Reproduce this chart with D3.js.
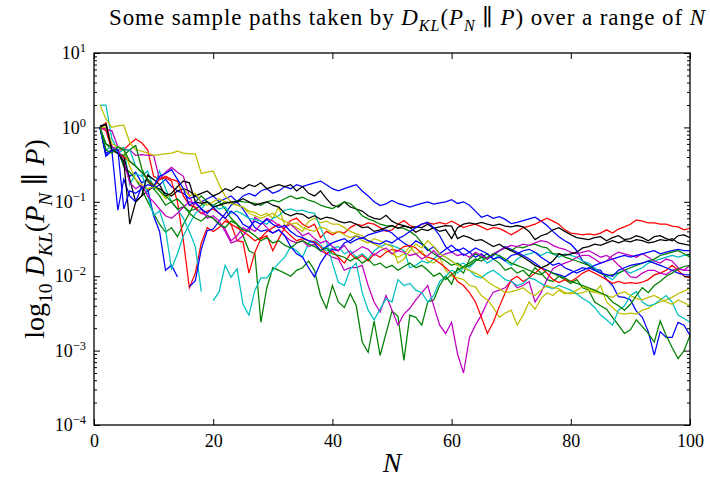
<!DOCTYPE html>
<html>
<head>
<meta charset="utf-8">
<script src="https://cdn.jsdelivr.net/npm/d3@7"></script>
<style>
  html, body { margin: 0; padding: 0; background: #fff; }
  svg { display: block; }
</style>
</head>
<body>
<svg id="chart" width="710" height="479"></svg>
<script>
// ---------------- data (N = 1..100) ----------------
const N = d3.range(1, 101);

const blue1 = [
  1.0, 0.42, 0.48, 0.5, 0.3, 0.22, 0.25, 0.18, 0.2, 0.15,
  0.17, 0.2, 0.16, 0.14, 0.13, 0.11, 0.12, 0.1, 0.11, 0.12,
  0.1, 0.11, 0.12, 0.1, 0.12, 0.13, 0.12, 0.14, 0.15, 0.13,
  0.14, 0.16, 0.15, 0.17, 0.16, 0.17, 0.18, 0.19, 0.17, 0.15,
  0.14, 0.15, 0.16, 0.17, 0.14, 0.12, 0.1, 0.089, 0.094, 0.104,
  0.095, 0.09, 0.085, 0.09, 0.095, 0.1, 0.093, 0.097, 0.1, 0.107,
  0.095, 0.1, 0.09, 0.075, 0.062, 0.066, 0.06, 0.063, 0.058, 0.051,
  0.053, 0.056, 0.059, 0.062, 0.055, 0.048, 0.04, 0.034, 0.03, 0.027,
  0.022, 0.016, 0.014, 0.0125, 0.012, 0.009, 0.0075, 0.0053, 0.0052, 0.0048,
  0.0034, 0.0028, 0.0018, 0.00087, 0.0018, 0.0015, 0.0015, 0.0024, 0.0022, 0.0016
];
const green1 = [
  1.0, 0.6, 0.55, 0.5, 0.3, 0.25, 0.2, 0.15, 0.1, 0.07,
  0.05, 0.039, 0.045, 0.034, 0.05, 0.07, 0.1, 0.12, 0.1, 0.09,
  0.1, 0.08, 0.06, 0.05, 0.035, 0.022, 0.02, 0.0024, 0.007, 0.013,
  0.012, 0.011, 0.01, 0.012, 0.013, 0.016, 0.012, 0.0055, 0.0037, 0.0075,
  0.0045, 0.0038, 0.0058, 0.004, 0.0013, 0.00095, 0.0025, 0.00086, 0.0017, 0.0034,
  0.0029, 0.00074, 0.003, 0.0028, 0.0022, 0.0045, 0.0048, 0.0075, 0.01, 0.0078,
  0.013, 0.011, 0.017, 0.02, 0.018, 0.02, 0.017, 0.015, 0.012, 0.013,
  0.011, 0.012, 0.01, 0.013, 0.011, 0.009, 0.0085, 0.01, 0.009, 0.008,
  0.009, 0.007, 0.0065, 0.0045, 0.004, 0.0036, 0.0028, 0.0022, 0.0017, 0.0019,
  0.0026, 0.0021, 0.0017, 0.0013, 0.0025, 0.0016, 0.0011, 0.00078, 0.001, 0.0016
];
const red1 = [
  1.0, 1.15, 0.55, 0.5, 0.5, 0.6, 0.7, 0.62, 0.5, 0.22,
  0.2, 0.21, 0.19, 0.1, 0.03, 0.007, 0.011, 0.028, 0.045, 0.04,
  0.045, 0.055, 0.05, 0.03, 0.029, 0.011, 0.021, 0.032, 0.035, 0.022,
  0.032, 0.045, 0.056, 0.06, 0.05, 0.045, 0.05, 0.033, 0.04, 0.036,
  0.04, 0.038, 0.045, 0.05, 0.048, 0.052, 0.05, 0.045, 0.04, 0.042,
  0.05, 0.056, 0.048, 0.045, 0.05, 0.052, 0.05, 0.053, 0.05, 0.055,
  0.05, 0.045, 0.048, 0.05, 0.046, 0.042, 0.045, 0.044, 0.04, 0.036,
  0.04, 0.045, 0.047, 0.05, 0.055, 0.06, 0.055, 0.05, 0.042, 0.038,
  0.037, 0.036, 0.037, 0.036, 0.038, 0.042, 0.038, 0.043, 0.046, 0.05,
  0.057, 0.055, 0.052, 0.052, 0.05, 0.05, 0.047, 0.046, 0.042, 0.044
];
const cyan1 = [
  2.0, 2.0, 0.7, 0.5, 0.54, 0.17, 0.24, 0.22, 0.26, 0.15,
  0.26, 0.15, 0.1, 0.08, 0.06, 0.04, 0.025, 0.0062, null, 0.0047,
  0.0062, 0.014, 0.0097, 0.0126, 0.0042, 0.003, 0.0065, 0.0095, 0.0095, 0.012,
  0.015, 0.018, 0.025, 0.022, 0.018, 0.028, 0.03, 0.026, 0.022, 0.024,
  0.025, 0.02, 0.022, 0.018, 0.02, 0.017, 0.022, 0.025, 0.027, 0.026,
  0.024, 0.022, 0.013, 0.014, 0.016, 0.015, 0.017, 0.02, 0.018, 0.016,
  0.014, 0.015, 0.013, 0.016, 0.018, 0.015, 0.017, 0.019, 0.016, 0.014,
  0.017, 0.019, 0.02, 0.021, 0.019, 0.021, 0.02, 0.018, 0.02, 0.019,
  0.018, 0.016, 0.015, 0.013, 0.011, 0.01, 0.009, 0.011, 0.012, 0.011,
  0.012, 0.013, 0.015, 0.016, 0.017, 0.018, 0.019, 0.018, 0.019, 0.019
];
const magenta1 = [
  1.0, 0.95, 0.9, 0.55, 0.5, 0.5, 0.42, 0.43, 0.42, 0.42,
  0.2, 0.25, 0.29, 0.25, 0.22, 0.12, 0.08, 0.07, 0.066, 0.06,
  0.05, 0.043, 0.03, 0.035, 0.045, 0.04, 0.062, 0.055, 0.045, 0.038,
  0.042, 0.035, 0.03, 0.028, 0.03, 0.025, 0.027, 0.022, 0.02, 0.018,
  0.017, 0.012, 0.013, 0.013, 0.014, 0.0075, 0.0045, 0.0033, 0.0055, 0.0035,
  0.0022, 0.0031, 0.0037, 0.0048, 0.006, 0.0075, 0.004, 0.0022, 0.0017, 0.0024,
  0.0009, 0.0005, 0.0015, 0.0022, 0.003, 0.0045, 0.0061, 0.0065, 0.007, 0.0087,
  0.007, 0.0075, 0.0085, 0.0045, 0.006, 0.009, 0.0126, 0.014, 0.015, 0.016,
  0.018, 0.019, 0.019, 0.017, 0.015, 0.016, 0.019, 0.021, 0.02, 0.019,
  0.018, 0.02, 0.018, 0.016, 0.015, 0.017, 0.016, 0.013, 0.012, 0.014
];
const yellow1 = [
  2.0, 1.3, 1.0, 1.05, 1.07, 0.63, 0.5, 0.48, 0.45, 0.42,
  0.43, 0.44, 0.45, 0.48, 0.45, 0.44, 0.44, 0.24, 0.25, 0.26,
  0.17, 0.12, 0.1, 0.09, 0.085, 0.075, 0.072, 0.065, 0.07, 0.06,
  0.085, 0.048, 0.05, 0.045, 0.04, 0.055, 0.06, 0.052, 0.055, 0.05,
  0.05, 0.045, 0.04, 0.037, 0.035, 0.03, 0.027, 0.025, 0.022, 0.02,
  0.018, 0.02, 0.025, 0.02, 0.022, 0.016, 0.015, 0.018, 0.012, 0.01,
  0.0095, 0.009, 0.0075, 0.0072, 0.0055, 0.0048, 0.0038, 0.0028, 0.0032, 0.0035,
  0.0022, 0.003, 0.0045, 0.0036, 0.005, 0.006, 0.0055, 0.0065, 0.0058, 0.006,
  0.0058, 0.006, 0.0065, 0.006, 0.0075, 0.0045, 0.0038, 0.0032, 0.0031, 0.0032,
  0.0031, 0.0035, 0.0037, 0.0042, 0.0045, 0.0048, 0.0052, 0.0058, 0.0063, 0.0069
];
const black1 = [
  1.05, 1.1, 0.5, 0.45, 0.4, 0.2, 0.1, 0.12, 0.14, 0.16,
  0.15, 0.13, 0.12, 0.14, 0.15, 0.14, 0.12, 0.13, 0.14, 0.12,
  0.13, 0.15, 0.14, 0.16, 0.15, 0.17, 0.16, 0.18, 0.15, 0.16,
  0.17, 0.16, 0.17, 0.14, 0.16, 0.13, 0.12, 0.14, 0.11, 0.09,
  0.085, 0.1, 0.085, 0.08, 0.075, 0.065, 0.06, 0.058, 0.066, 0.055,
  0.05, 0.048, 0.045, 0.039, 0.043, 0.041, 0.045, 0.04, 0.042, 0.032,
  0.045, 0.05, 0.052, 0.05, 0.053, 0.05, 0.048, 0.05, 0.047, 0.046,
  0.048, 0.046, 0.04, 0.031, 0.035, 0.037, 0.042, 0.045, 0.04, 0.036,
  0.033, 0.032, 0.031, 0.033, 0.034, 0.03, 0.033, 0.035, 0.031, 0.032,
  0.035, 0.033, 0.03, 0.034, 0.035, 0.032, 0.03, 0.035, 0.036, 0.033
];
const blue2 = [
  1.0, 0.41, 0.49, 0.077, 0.2, 0.12, 0.1, 0.16, 0.15, 0.065,
  0.04, 0.012, 0.014, 0.0098, null, 0.0072, 0.0087, 0.023, 0.041, 0.043,
  0.055, 0.069, 0.09, 0.1, 0.08, 0.06, 0.045, 0.04, 0.042, 0.038,
  0.042, 0.035, 0.025, 0.02, 0.018, 0.013, 0.0098, 0.015, 0.02, 0.023,
  0.022, 0.028, 0.03, 0.035, 0.032, 0.036, 0.038, 0.04, 0.042, 0.038,
  0.032, 0.028, 0.025, 0.03, 0.027, 0.022, 0.025, 0.02, 0.023, 0.026,
  0.022, 0.024, 0.021, 0.018, 0.02, 0.017, 0.019, 0.022, 0.025, 0.023,
  0.021, 0.019, 0.017, 0.015, 0.013, 0.012, 0.011, 0.0105, 0.0098, 0.011,
  0.012, 0.013, 0.0125, 0.014, 0.015, 0.016, 0.017, 0.018, 0.019, 0.018,
  0.019, 0.02, 0.021, 0.022, 0.02, 0.021, 0.022, 0.023, 0.022, 0.022
];
const green2 = [
  1.0, 0.6, 0.5, 0.45, 0.42, 0.5, 0.57, 0.28, 0.19, 0.15,
  0.12, 0.09, 0.1, 0.08, 0.085, 0.075, 0.08, 0.09, 0.1, 0.085,
  0.09, 0.1, 0.095, 0.104, 0.1, 0.098, 0.095, 0.09, 0.1, 0.105,
  0.1, 0.11, 0.12, 0.11, 0.115, 0.105, 0.1, 0.09, 0.085, 0.081,
  0.09, 0.1, 0.095, 0.08, 0.065, 0.059, 0.055, 0.05, 0.048, 0.047,
  0.045, 0.044, 0.04, 0.035, 0.028, 0.023, 0.02, 0.018, 0.016, 0.014,
  0.015, 0.013, 0.014, 0.016, 0.018, 0.017, 0.02, 0.022, 0.024, 0.022,
  0.025, 0.024, 0.026, 0.027, 0.025, 0.024, 0.02, 0.02, 0.018, 0.017,
  0.016, 0.015, 0.014, 0.012, 0.011, 0.01, 0.0105, 0.011, 0.012, 0.013,
  0.014, 0.015, 0.016, 0.017, 0.019, 0.02, 0.021, 0.022, 0.02, 0.018
];
const red2 = [
  1.0, 0.9, 0.5, 0.45, 0.4, 0.35, 0.3, 0.25, 0.2, 0.16,
  0.2, 0.22, 0.2, 0.19, 0.12, 0.09, 0.085, 0.07, 0.075, 0.08,
  0.07, 0.06, 0.05, 0.045, 0.04, 0.035, 0.03, 0.033, 0.04, 0.045,
  0.05, 0.042, 0.035, 0.03, 0.032, 0.03, 0.029, 0.025, 0.02, 0.022,
  0.018, 0.015, 0.02, 0.017, 0.019, 0.016, 0.02, 0.018, 0.021, 0.023,
  0.022, 0.025, 0.026, 0.024, 0.02, 0.018, 0.017, 0.015, 0.013, 0.011,
  0.0085, 0.0075, 0.006, 0.0045, 0.0028, 0.0017, 0.0024, 0.0039, 0.006, 0.0089,
  0.01, 0.0085, 0.0095, 0.011, 0.013, 0.011, 0.009, 0.0082, 0.009, 0.0085,
  0.0095, 0.011, 0.012, 0.011, 0.01, 0.009, 0.008, 0.0085, 0.008, 0.0082,
  0.008, 0.0083, 0.009, 0.0104, 0.011, 0.012, 0.014, 0.012, 0.01, 0.0095
];
const cyan2 = [
  1.0, 0.5, 0.55, 0.45, 0.5, 0.5, 0.3, 0.25, 0.12, 0.066,
  0.075, 0.043, 0.0126, 0.02, 0.035, 0.05, 0.07, 0.08, 0.1, 0.09,
  0.08, 0.085, 0.07, 0.075, 0.068, 0.06, 0.058, 0.055, 0.05, 0.06,
  0.065, 0.077, 0.08, 0.075, 0.077, 0.072, 0.07, 0.045, 0.029, 0.015,
  0.0083, 0.0075, 0.0126, 0.015, 0.006, 0.0035, 0.0026, 0.0036, 0.005, 0.0045,
  0.009, 0.0075, 0.008, 0.0065, 0.006, 0.0045, 0.0055, 0.0085, 0.01, 0.012,
  0.011, 0.013, 0.012, 0.01, 0.0095, 0.011, 0.012, 0.0105, 0.009, 0.0085,
  0.0075, 0.008, 0.0095, 0.009, 0.008, 0.0072, 0.0068, 0.0075, 0.007, 0.0065,
  0.0058, 0.005, 0.0045, 0.0038, 0.003, 0.0026, 0.0022, 0.0035, 0.004, 0.0055,
  0.0062, 0.0045, 0.004, 0.0042, 0.0048, 0.0055, 0.0045, 0.003, 0.0027, 0.0024
];
const magenta2 = [
  1.0, 0.95, 0.55, 0.5, 0.35, 0.18, 0.15, 0.17, 0.12, 0.1,
  0.08, 0.065, 0.06, 0.07, 0.085, 0.1, 0.095, 0.08, 0.06, 0.065,
  0.055, 0.04, 0.028, 0.03, 0.035, 0.045, 0.04, 0.05, 0.06, 0.055,
  0.048, 0.045, 0.05, 0.042, 0.035, 0.038, 0.032, 0.028, 0.03, 0.025,
  0.022, 0.026, 0.02, 0.022, 0.025, 0.023, 0.019, 0.022, 0.024, 0.02,
  0.022, 0.021, 0.019, 0.02, 0.017, 0.019, 0.022, 0.018, 0.02, 0.021,
  0.019, 0.02, 0.018, 0.021, 0.019, 0.017, 0.02, 0.022, 0.024, 0.026,
  0.025, 0.027, 0.026, 0.028, 0.03, 0.029, 0.026, 0.024, 0.023, 0.021,
  0.02, 0.021, 0.022, 0.02, 0.018, 0.019, 0.017, 0.014, 0.012, 0.0098,
  0.0096, 0.011, 0.012, 0.012, 0.011, 0.0105, 0.012, 0.0125, 0.012, 0.012
];
const yellow2 = [
  1.0, 1.0, 0.6, 0.55, 0.5, 0.3, 0.2, 0.17, 0.15, 0.16,
  0.14, 0.11, 0.13, 0.16, 0.15, 0.12, 0.13, 0.1, 0.09, 0.1,
  0.11, 0.1, 0.095, 0.09, 0.085, 0.07, 0.065, 0.06, 0.065, 0.07,
  0.06, 0.055, 0.05, 0.052, 0.045, 0.042, 0.04, 0.046, 0.043, 0.038,
  0.04, 0.036, 0.033, 0.035, 0.03, 0.028, 0.032, 0.03, 0.027, 0.025,
  0.015, 0.017, 0.022, 0.027, 0.024, 0.03, 0.025, 0.02, 0.018, 0.016,
  0.014, 0.013, 0.012, 0.011, 0.01, 0.0085, 0.0075, 0.0068, 0.006, 0.0062,
  0.0065, 0.007, 0.006, 0.0055, 0.0065, 0.0075, 0.007, 0.0068, 0.006, 0.0058,
  0.0065, 0.0072, 0.0068, 0.0062, 0.0058, 0.0055, 0.0052, 0.0058, 0.0062, 0.0055,
  0.005, 0.0048, 0.0052, 0.0055, 0.005, 0.0045, 0.0042, 0.0048, 0.0044, 0.004
];
const black2 = [
  1.0, 1.1, 0.5, 0.45, 0.35, 0.05, 0.1, 0.12, 0.23, 0.2,
  0.17, 0.12, 0.13, 0.16, 0.19, 0.18, 0.1, 0.095, 0.1, 0.085,
  0.09, 0.095, 0.1, 0.1, 0.11, 0.1, 0.09, 0.095, 0.1, 0.09,
  0.085, 0.07, 0.065, 0.07, 0.068, 0.06, 0.065, 0.058, 0.062, 0.06,
  0.055, 0.052, 0.054, 0.05, 0.045, 0.046, 0.04, 0.042, 0.045, 0.048,
  0.044, 0.047, 0.045, 0.046, 0.045, 0.05, 0.044, 0.046, 0.048, 0.047,
  0.032, 0.035, 0.033, 0.03, 0.031, 0.028, 0.025, 0.027, 0.024, 0.022,
  0.02, 0.018, 0.016, 0.014, 0.013, 0.014, 0.016, 0.02, 0.019, 0.02,
  0.021, 0.024, 0.025, 0.027, 0.026, 0.028, 0.03, 0.028, 0.03, 0.029,
  0.031, 0.03, 0.028, 0.029, 0.031, 0.03, 0.032, 0.028, 0.027, 0.026
];
const blue3 = [
  1.0, 0.45, 0.5, 0.5, 0.08, 0.14, 0.13, 0.15, 0.17, 0.16,
  0.22, 0.24, 0.27, 0.2, 0.15, 0.09, 0.1, 0.08, 0.07, 0.085,
  0.07, 0.06, 0.075, 0.065, 0.05, 0.045, 0.055, 0.05, 0.058, 0.05,
  0.045, 0.048, 0.04, 0.035, 0.033, 0.03, 0.028, 0.022, 0.025, 0.028,
  0.03, 0.032, 0.028, 0.031, 0.033, 0.03, 0.028, 0.027, 0.03, 0.028,
  0.032, 0.035, 0.04, 0.045, 0.05, 0.053, 0.045, 0.035, 0.025, 0.021,
  0.023, 0.019, 0.021, 0.024, 0.022, 0.02, 0.017, 0.018, 0.016, 0.019,
  0.02, 0.022, 0.023, 0.021, 0.018, 0.016, 0.014, 0.015, 0.013, 0.012,
  0.011, 0.012, 0.013, 0.012, 0.011, 0.0105, 0.01, 0.012, 0.013, 0.014,
  0.0145, 0.015, 0.016, 0.015, 0.014, 0.013, 0.012, 0.011, 0.0105, 0.0104
];
const green3 = [
  1.0, 0.5, 0.45, 0.55, 0.5, 0.35, 0.3, 0.25, 0.2, 0.17,
  0.14, 0.12, 0.1, 0.11, 0.09, 0.07, 0.06, 0.055, 0.065, 0.06,
  0.05, 0.045, 0.055, 0.05, 0.042, 0.04, 0.035, 0.03, 0.033, 0.028,
  0.03, 0.026, 0.024, 0.028, 0.03, 0.027, 0.025, 0.022, 0.024, 0.02,
  0.019, 0.018, 0.016, 0.018, 0.015, 0.017, 0.014, 0.015, 0.013, 0.014,
  0.012, 0.0135, 0.015, 0.013, 0.014, 0.012, 0.01, 0.011, 0.009, 0.0105,
  0.012, 0.0135, 0.015, 0.017, 0.016, 0.018, 0.02, 0.019, 0.017, 0.015,
  0.014, 0.013, 0.012, 0.011, 0.0105, 0.012, 0.011, 0.01, 0.0095, 0.0085,
  0.008, 0.0075, 0.007, 0.0065, 0.006, 0.0055, 0.0045, 0.004, 0.0035, 0.0042,
  0.0055, 0.007, 0.006, 0.0075, 0.0085, 0.01, 0.011, 0.0125, 0.0135, 0.014
];

const seriesList = [blue1, green1, red1, cyan1, magenta1, yellow1, black1,
                    blue2, green2, red2, cyan2, magenta2, yellow2, black2,
                    blue3, green3];
const seriesColors = ["#0000ff", "#008000", "#ff0000", "#00bfbf", "#bf00bf", "#bfbf00", "#000000",
                      "#0000ff", "#008000", "#ff0000", "#00bfbf", "#bf00bf", "#bfbf00", "#000000",
                      "#0000ff", "#008000"];

const xTicks = [0, 20, 40, 60, 80, 100];
const yMajorTicks = [1e-4, 1e-3, 1e-2, 1e-1, 1e0, 1e1];
const yTickExponents = ["\u22124", "\u22123", "\u22122", "\u22121", "0", "1"];

// ---------------- layout ----------------
const svg = d3.select("#chart");
const L = 94, R = 690, T = 53, B = 425;
const FONT = "'Liberation Serif', 'DejaVu Serif', serif";

const x = d3.scaleLinear().domain([0, 100]).range([L, R]);
const y = d3.scaleLog().domain([1e-4, 1e1]).range([B, T]);

svg.append("defs").append("clipPath").attr("id", "plotclip")
  .append("rect").attr("x", L).attr("y", T).attr("width", R - L).attr("height", B - T);

// lines
const line = d3.line()
  .defined(d => d[1] != null && d[1] > 0)
  .x(d => x(d[0]))
  .y(d => y(d[1]));

const gLines = svg.append("g").attr("clip-path", "url(#plotclip)");
seriesList.forEach((s, i) => {
  gLines.append("path")
    .datum(N.map((n, j) => [n, s[j]]))
    .attr("d", line)
    .attr("fill", "none")
    .attr("stroke", seriesColors[i])
    .attr("stroke-width", 1.25)
    .attr("stroke-linejoin", "miter");
});

// axes
function styleAxis(g) {
  g.select(".domain").remove();
  g.selectAll(".tick line").attr("stroke", "#000").attr("stroke-width", 1);
  g.selectAll("text").attr("font-family", FONT).attr("font-size", 18).attr("fill", "#000");
}
const yMinor = y.ticks().filter(v => !yMajorTicks.some(m => Math.abs(m - v) / m < 1e-9));

svg.append("g").attr("transform", `translate(0,${B})`)
  .call(d3.axisBottom(x).tickValues(xTicks).tickSizeInner(-6).tickSizeOuter(0).tickPadding(9).tickFormat(d3.format("d")))
  .call(styleAxis);
svg.append("g").attr("transform", `translate(0,${T})`)
  .call(d3.axisTop(x).tickValues(xTicks).tickSizeInner(-6).tickSizeOuter(0).tickFormat(""))
  .call(styleAxis);

const gyl = svg.append("g").attr("transform", `translate(${L},0)`)
  .call(d3.axisLeft(y).tickValues(yMajorTicks).tickSizeInner(-6).tickSizeOuter(0).tickPadding(8).tickFormat(""))
  .call(styleAxis);
gyl.selectAll(".tick text").each(function(d, i) {
  const t = d3.select(this);
  t.text(null).attr("dy", "0.32em");
  t.append("tspan").text("10");
  t.append("tspan").text(yTickExponents[i]).attr("font-size", 12.5).attr("dy", -7);
});
svg.append("g").attr("transform", `translate(${L},0)`)
  .call(d3.axisLeft(y).tickValues(yMinor).tickSizeInner(-3).tickSizeOuter(0).tickFormat(""))
  .call(styleAxis);
svg.append("g").attr("transform", `translate(${R},0)`)
  .call(d3.axisRight(y).tickValues(yMajorTicks).tickSizeInner(-6).tickSizeOuter(0).tickFormat(""))
  .call(styleAxis);
svg.append("g").attr("transform", `translate(${R},0)`)
  .call(d3.axisRight(y).tickValues(yMinor).tickSizeInner(-3).tickSizeOuter(0).tickFormat(""))
  .call(styleAxis);

// frame
svg.append("rect").attr("x", L).attr("y", T).attr("width", R - L).attr("height", B - T)
  .attr("fill", "none").attr("stroke", "#000").attr("stroke-width", 1.3);

// rich text helper
function rich(sel, parts, base) {
  let shift = 0;
  parts.forEach(p => {
    const ts = sel.append("tspan").text(p.t);
    const small = p.sub || p.sup;
    ts.attr("font-size", small ? base * 0.7 : base);
    const target = p.sub ? base * 0.28 : (p.sup ? -base * 0.4 : 0);
    if (target !== shift) { ts.attr("dy", target - shift); shift = target; }
    if (p.it) ts.attr("font-style", "italic");
  });
}

// title
const title = svg.append("text")
  .attr("x", 407).attr("y", 25)
  .attr("text-anchor", "middle")
  .attr("font-family", FONT).attr("fill", "#000")
  .attr("textLength", 596).attr("lengthAdjust", "spacing");
rich(title, [
  {t: "Some sample paths taken by "},
  {t: "D", it: true}, {t: "KL", it: true, sub: true},
  {t: "("}, {t: "P", it: true}, {t: "N", it: true, sub: true},
  {t: " \u2225 "}, {t: "P", it: true}, {t: ")"},
  {t: " over a range of "}, {t: "N", it: true}
], 23);

// x label
svg.append("text")
  .attr("x", (L + R) / 2).attr("y", 472)
  .attr("text-anchor", "middle")
  .attr("font-family", FONT).attr("font-size", 28).attr("font-style", "italic")
  .attr("fill", "#000").text("N");

// y label
const ylab = svg.append("text")
  .attr("transform", `translate(44,${(T + B) / 2}) rotate(-90)`)
  .attr("text-anchor", "middle")
  .attr("font-family", FONT).attr("fill", "#000");
rich(ylab, [
  {t: "log"}, {t: "10", sub: true}, {t: " "},
  {t: "D", it: true}, {t: "KL", it: true, sub: true},
  {t: "("}, {t: "P", it: true}, {t: "N", it: true, sub: true},
  {t: " \u2225 "}, {t: "P", it: true}, {t: ")"}
], 28);
</script>
</body>
</html>
